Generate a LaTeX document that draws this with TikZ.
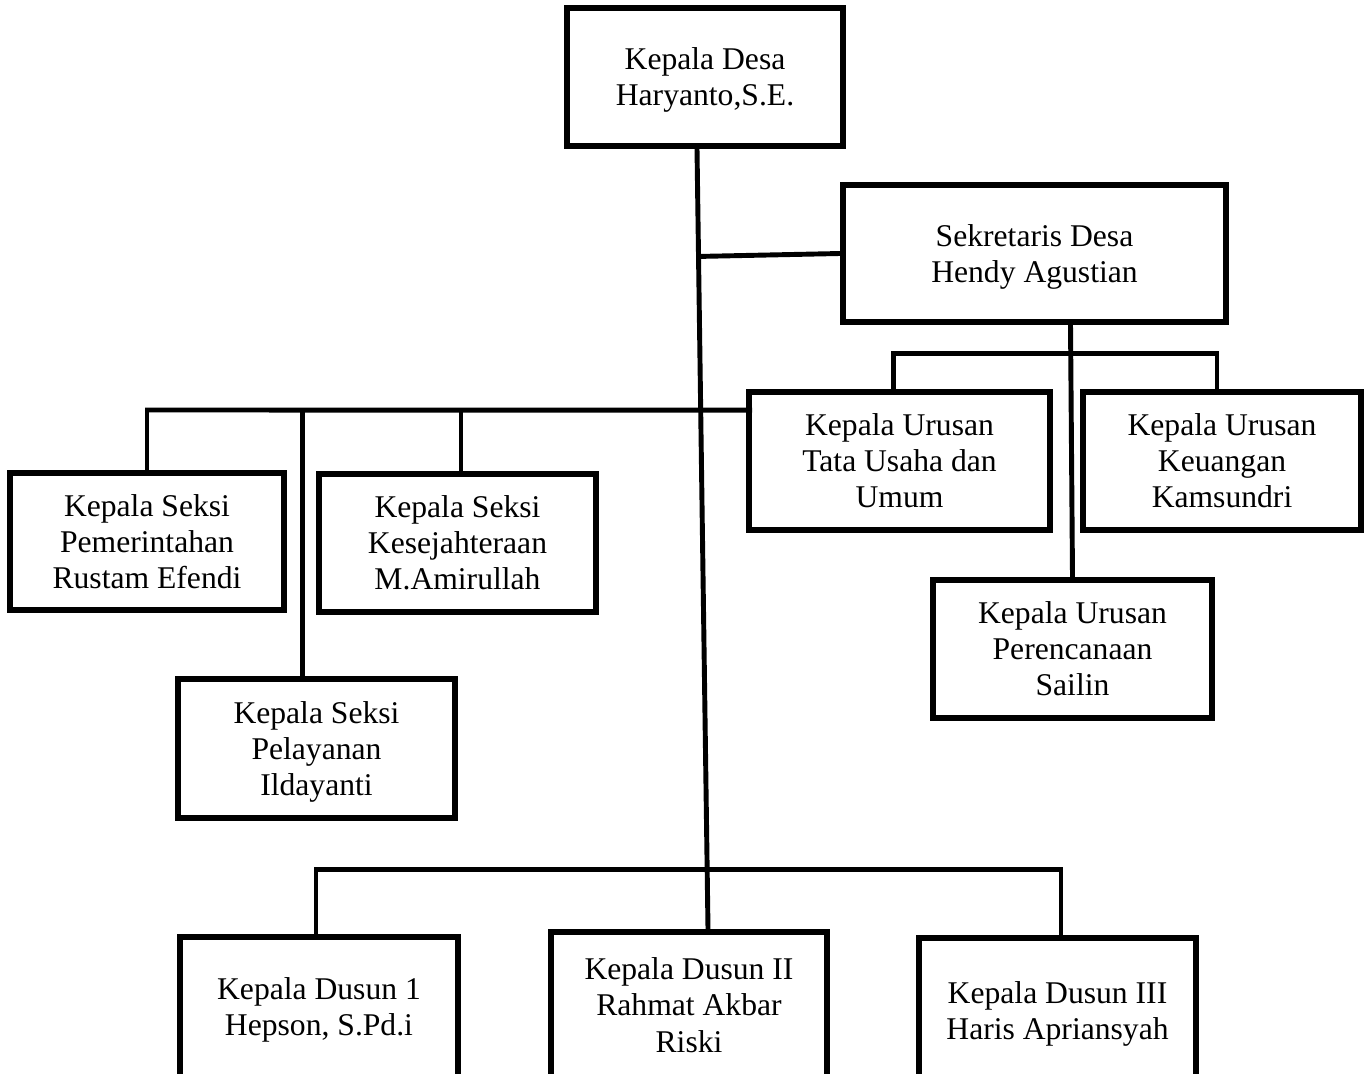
\documentclass[tikz,border=0pt]{standalone}
\usepackage{fontspec}
\setmainfont{Liberation Serif}
\usetikzlibrary{calc,positioning}
\tikzset{
  kotak/.style 2 args={draw,line width=3.2pt,align=center,inner sep=0pt,
    minimum width=#1*0.02cm,minimum height=#2*0.02cm,
    font=\fontsize{18}{20.5}\selectfont,text depth=0pt},
  garis/.style={line width=2.8pt}
}
\begin{document}
\begin{tikzpicture}[x=0.02cm,y=-0.02cm]
  \useasboundingbox (0,0) rectangle (1368,1074);
  \clip (0,0) rectangle (1368,1074);
  \node[kotak={276}{138}] (desa) at (705,77) {Kepala Desa\\Haryanto,S.E.};
  \node[kotak={383}{137}] (sekdes) at (1034.5,253.5) {Sekretaris Desa\\Hendy Agustian};
  \node[kotak={301}{138}] (tu) at (899.5,461) {Kepala Urusan\\Tata Usaha dan\\Umum};
  \node[kotak={278}{138}] (keu) at (1222,461) {Kepala Urusan\\Keuangan\\Kamsundri};
  \node[kotak={279}{138}] (ren) at (1072.5,649) {Kepala Urusan\\Perencanaan\\Sailin};
  \node[kotak={274}{137}] (pem) at (147,541.5) {Kepala Seksi\\Pemerintahan\\Rustam Efendi};
  \node[kotak={277}{138}] (kes) at (457.5,543) {Kepala Seksi\\Kesejahteraan\\M.Amirullah};
  \node[kotak={277}{139}] (pel) at (316.5,748.5) {Kepala Seksi\\Pelayanan\\Ildayanti};
  \node[kotak={278}{140}] (dusun1) at (319,1007) {Kepala Dusun 1\\Hepson, S.Pd.i};
  \node[kotak={276}{146}] (dusun2) at (689,1005) {Kepala Dusun II\\Rahmat Akbar\\Riski};
  \node[kotak={277}{146}] (dusun3) at (1057.5,1011) {Kepala Dusun III\\Haris Apriansyah};
  % garis komando
  \draw[garis] ($(desa.south)+(-8,0)$) -- ($(dusun2.north)+(19,0)$);
  \draw[garis] (sekdes.west) -- ++(-144,3);
  \draw[garis] ($(sekdes.south)+(36,0)$) -- (ren.north);
  \draw[garis] ($(tu.north)+(-6,0)$) |- ($(keu.north)+(-5,-36)$) -- ($(keu.north)+(-5,0)$);
  % seksi
  \coordinate (kiri) at (145,410);
  \draw[garis] (kiri) -- ($(tu.north west)+(6,21)$);
  \foreach \n/\dx in {pem/0,pel/-14,kes/3.5}
    \draw[garis] ($(\n.north)+(\dx,0)$) |- (kiri);
  % dusun
  \draw[garis] ($(dusun1.north)+(-3,0)$) |- ($(dusun3.north)+(3.5,-66)$) -- ($(dusun3.north)+(3.5,0)$);
\end{tikzpicture}
\end{document}
